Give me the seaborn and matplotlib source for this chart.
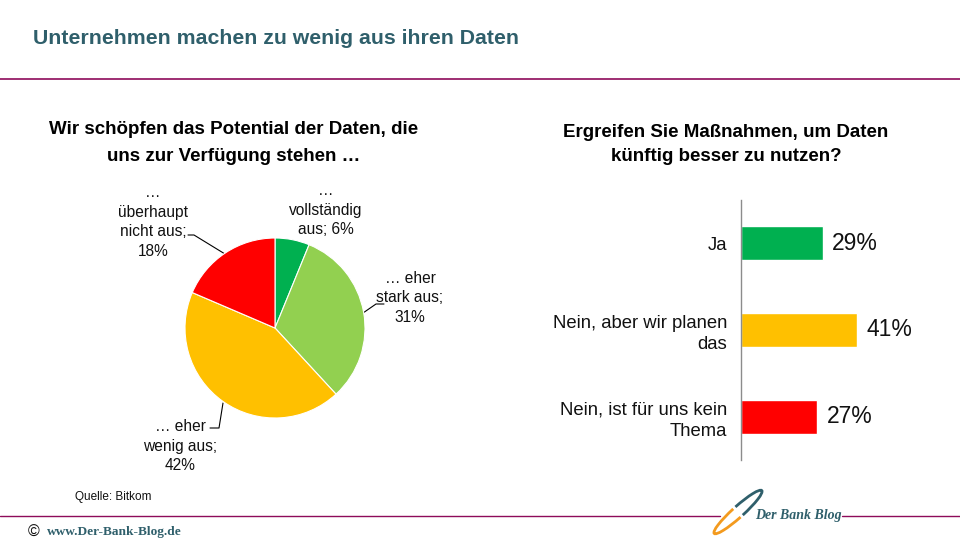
"""
plot.py
-------
Bitkom-Umfrage: Nutzung von Unternehmensdaten (Tortendiagramm + Balkendiagramm).
"""

import numpy as np
import pandas as pd
import matplotlib
matplotlib.use("Agg")
import matplotlib.pyplot as plt
from matplotlib.patches import Arc
import seaborn as sns

# ------------------------------------------------------------------
# DATA
# ------------------------------------------------------------------
pie_labels = ["…\nvollständig\naus; 6%",
              "… eher\nstark aus;\n31%",
              "… eher\nwenig aus;\n42%",
              "…\nüberhaupt\nnicht aus;\n18%"]
pie_values = [6, 31, 42, 18]
pie_colors = ["#00B050", "#92D050", "#FFC000", "#FF0000"]

bar_categories = ["Ja", "Nein, aber wir planen\ndas", "Nein, ist für uns kein\nThema"]
bar_values = [29, 41, 27]
bar_colors = ["#00B050", "#FFC000", "#FF0000"]

TITLE = "Unternehmen machen zu wenig aus ihren Daten"
PIE_TITLE = "Wir schöpfen das Potential der Daten, die\nuns zur Verfügung stehen …"
BAR_TITLE = "Ergreifen Sie Maßnahmen, um Daten\nkünftig besser zu nutzen?"
SOURCE = "Quelle: Bitkom"

TEAL = "#2F5F6B"
PURPLE = "#8E0B5A"
SERIF = ["Liberation Serif", "DejaVu Serif"]

W, H = 960, 540

sns.set_theme(style="white")
plt.rcParams["font.family"] = ["Liberation Sans", "DejaVu Sans"]


def px_box(left, top, width, height):
    """pixel box (from top-left) -> figure fraction rect"""
    return [left / W, (H - top - height) / H, width / W, height / H]


fig = plt.figure(figsize=(W / 100, H / 100), dpi=100)
fig.patch.set_facecolor("white")

# overlay in pixel coordinates for titles, rules, leader lines
ov = fig.add_axes([0, 0, 1, 1])
ov.set_xlim(0, W)
ov.set_ylim(H, 0)
ov.axis("off")

ov.text(33, 38, TITLE, color=TEAL, fontsize=15.3, fontweight="bold",
        va="center", ha="left")
ov.plot([0, W], [79, 79], color=PURPLE, lw=1.2)

ov.text(234, 143, PIE_TITLE, fontsize=13.5, fontweight="bold", ha="center",
        va="center", linespacing=1.8, color="black")
ov.text(726, 144.5, BAR_TITLE, fontsize=13.5, fontweight="bold", ha="center",
        va="center", linespacing=1.6, color="black")

# ------------------------------------------------------------------
# PIE
# ------------------------------------------------------------------
ax_pie = fig.add_axes(px_box(185, 238, 180, 180))
ax_pie.pie(pie_values, colors=pie_colors, startangle=90, counterclock=False,
           wedgeprops=dict(linewidth=0.8, edgecolor="white"))
ax_pie.set_xlim(-1, 1)
ax_pie.set_ylim(-1, 1)
ax_pie.set_aspect("equal")

label_pos = [(326, 210), (410, 298), (180, 446), (153, 222)]
for txt, (lx, ly) in zip(pie_labels, label_pos):
    ov.text(lx, ly, txt, fontsize=11.2, ha="center", va="center",
            linespacing=1.4, color="#111111")

leaders = [
    [(188, 235), (194, 235), (225, 254)],
    [(384, 304), (376, 304), (363, 313)],
    [(210, 428), (219, 428), (223, 403)],
]
for pts in leaders:
    xs, ys = zip(*pts)
    ov.plot(xs, ys, color="black", lw=0.8)

# ------------------------------------------------------------------
# BARS
# ------------------------------------------------------------------
df = pd.DataFrame({"cat": bar_categories, "val": bar_values})
ax_bar = fig.add_axes(px_box(741, 200, 141.5, 260))
sns.barplot(data=df, x="val", y="cat", hue="cat", palette=bar_colors,
            legend=False, width=0.39, saturation=1, ax=ax_bar)
ax_bar.set_xlim(0, 50)
ax_bar.set_ylim(2.5, -0.5)
ax_bar.set_xlabel("")
ax_bar.set_ylabel("")
ax_bar.set_xticks([])
for s in ("top", "right", "bottom"):
    ax_bar.spines[s].set_visible(False)
ax_bar.spines["left"].set_color("#8C8C8C")
ax_bar.spines["left"].set_linewidth(1.0)
ax_bar.tick_params(axis="y", length=0, pad=10, labelsize=13.3)
for lab in ax_bar.get_yticklabels():
    lab.set_multialignment("right")
    lab.set_linespacing(1.3)
    lab.set_color("#111111")
for i, v in enumerate(bar_values):
    ax_bar.text(v + 3.2, i, f"{v}%", fontsize=16.5, va="center", ha="left",
                color="#111111")

# ------------------------------------------------------------------
# FOOTER
# ------------------------------------------------------------------
ov.text(75, 497, SOURCE, fontsize=8.5, ha="left", va="center", color="#111111")
ov.plot([0, 720], [516, 516], color=PURPLE, lw=1.0)
ov.plot([842, W], [516, 516], color=PURPLE, lw=1.0)
ov.text(28, 532, "©", fontsize=11.5, ha="left", va="center", color="#111111")
ov.text(47, 532, "www.Der-Bank-Blog.de", fontsize=9.6, ha="left", va="center",
        color=TEAL, family=SERIF, fontweight="bold")

# logo swoosh
ov.add_patch(Arc((738, 512), 11, 64, angle=48, theta1=195, theta2=345,
                 color=TEAL, lw=2.0))
ov.add_patch(Arc((738, 512), 11, 64, angle=48, theta1=15, theta2=165,
                 color="#F39A1E", lw=2.0))
ov.text(755, 515, "Der Bank Blog", fontsize=10, fontweight="bold",
        fontstyle="italic", ha="left", va="center", color=TEAL, family=SERIF)

fig.savefig("out.png", dpi=100, facecolor="white")
